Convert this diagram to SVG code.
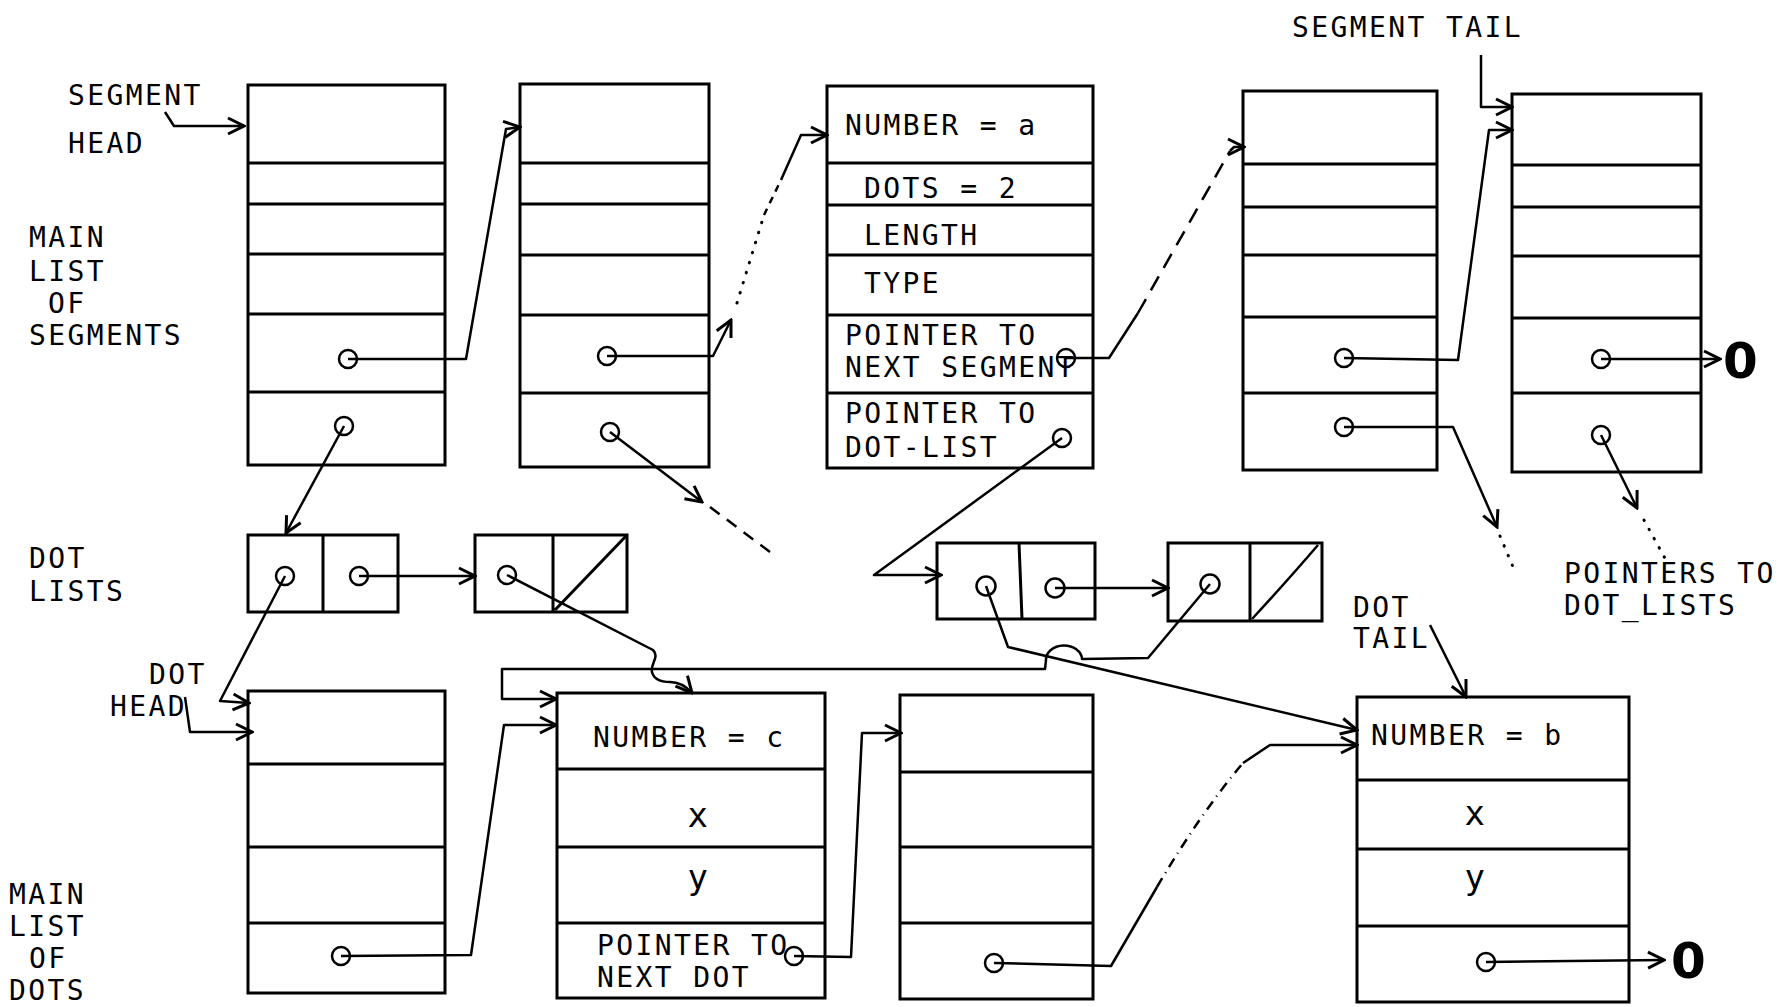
<svg xmlns="http://www.w3.org/2000/svg" width="1781" height="1007" viewBox="0 0 1781 1007">
<defs>
<style>
.box{fill:none;stroke:#000;stroke-width:3}
.dv{stroke:#000;stroke-width:3}
.c{fill:none;stroke:#000;stroke-width:2.5}
.ln{fill:none;stroke:#000;stroke-width:2.5;stroke-linejoin:round}
.dash{fill:none;stroke:#000;stroke-width:2.5;stroke-dasharray:12 9}
.dot{fill:none;stroke:#000;stroke-width:3;stroke-linecap:round;stroke-dasharray:0.5 10}
.dd{fill:none;stroke:#000;stroke-width:2.5;stroke-dasharray:10 6 1 6}
text{font-family:"DejaVu Sans Mono",monospace;font-size:28px;letter-spacing:2.4px;fill:#000}
.big{font-size:34px}
.zero{font-family:"DejaVu Sans","Liberation Sans",sans-serif;font-weight:bold;font-size:50px;letter-spacing:0}
</style>
<marker id="ah" viewBox="0 0 20 20" refX="18" refY="10" markerWidth="20" markerHeight="20" markerUnits="userSpaceOnUse" orient="auto">
<path d="M2,2 L18,10 L2,18" fill="none" stroke="#000" stroke-width="3"/>
</marker>
</defs>
<rect width="1781" height="1007" fill="#fff"/>

<g id="labels">
<text x="68" y="105">SEGMENT</text>
<text x="68" y="153">HEAD</text>
<text x="29" y="247">MAIN</text>
<text x="29" y="281">LIST</text>
<text x="48" y="313">OF</text>
<text x="29" y="345">SEGMENTS</text>
<text x="1292" y="37">SEGMENT TAIL</text>
<text x="29" y="568">DOT</text>
<text x="29" y="601">LISTS</text>
<text x="149" y="684">DOT</text>
<text x="110" y="716">HEAD</text>
<text x="9" y="904">MAIN</text>
<text x="9" y="936">LIST</text>
<text x="29" y="968">OF</text>
<text x="9" y="1000">DOTS</text>
<text x="1353" y="617">DOT</text>
<text x="1353" y="648">TAIL</text>
<text x="1564" y="583">POINTERS TO</text>
<text x="1564" y="615">DOT_LISTS</text>
<text class="zero" x="1723" y="378">0</text>
<text class="zero" x="1671" y="978">0</text>
</g>

<g id="seg1">
<rect class="box" x="248" y="85" width="197" height="380"/>
<path class="dv" d="M248,163H445M248,204H445M248,254H445M248,314H445M248,392H445"/>
<circle class="c" cx="348" cy="359" r="9"/>
<circle class="c" cx="344" cy="426" r="9"/>
</g>
<g id="seg2">
<rect class="box" x="520" y="84" width="189" height="383"/>
<path class="dv" d="M520,163H709M520,204H709M520,255H709M520,315H709M520,393H709"/>
<circle class="c" cx="607" cy="356" r="9"/>
<circle class="c" cx="610" cy="432" r="9"/>
</g>
<g id="seg3">
<rect class="box" x="827" y="86" width="266" height="382"/>
<path class="dv" d="M827,163H1093M827,205H1093M827,255H1093M827,315H1093M827,393H1093"/>
<text x="845" y="135">NUMBER = a</text>
<text x="864" y="198">DOTS = 2</text>
<text x="864" y="245">LENGTH</text>
<text x="864" y="293">TYPE</text>
<text x="845" y="345">POINTER TO</text>
<text x="845" y="377">NEXT SEGMENT</text>
<text x="845" y="423">POINTER TO</text>
<text x="845" y="457">DOT-LIST</text>
<circle class="c" cx="1066" cy="358" r="9"/>
<circle class="c" cx="1062" cy="438" r="9"/>
</g>
<g id="seg4">
<rect class="box" x="1243" y="91" width="194" height="379"/>
<path class="dv" d="M1243,164H1437M1243,207H1437M1243,255H1437M1243,317H1437M1243,393H1437"/>
<circle class="c" cx="1344" cy="358" r="9"/>
<circle class="c" cx="1344" cy="427" r="9"/>
</g>
<g id="seg5">
<rect class="box" x="1512" y="94" width="189" height="378"/>
<path class="dv" d="M1512,165H1701M1512,207H1701M1512,256H1701M1512,318H1701M1512,393H1701"/>
<circle class="c" cx="1601" cy="359" r="9"/>
<circle class="c" cx="1601" cy="435" r="9"/>
</g>

<g id="dl1">
<rect class="box" x="248" y="535" width="150" height="77"/>
<path class="dv" d="M323,535V612"/>
<circle class="c" cx="285" cy="576" r="9"/>
<circle class="c" cx="359" cy="576" r="9"/>
</g>
<g id="dl2">
<rect class="box" x="475" y="535" width="152" height="77"/>
<path class="dv" d="M553,535V612M555,610L627,535"/>
<circle class="c" cx="507" cy="575" r="9"/>
</g>
<g id="dl3">
<rect class="box" x="937" y="543" width="158" height="76"/>
<path class="dv" d="M1019,543L1022,619"/>
<circle class="c" cx="986" cy="586" r="9.5"/>
<circle class="c" cx="1055" cy="588" r="9.5"/>
</g>
<g id="dl4">
<rect class="box" x="1168" y="543" width="154" height="78"/>
<path class="dv" d="M1250,543V621"/>
<path class="ln" d="M1252,619Q1288,580 1318,545"/>
<circle class="c" cx="1210" cy="584" r="9.5"/>
</g>

<g id="dot1">
<rect class="box" x="248" y="691" width="197" height="302"/>
<path class="dv" d="M248,764H445M248,847H445M248,923H445"/>
<circle class="c" cx="341" cy="956" r="9"/>
</g>
<g id="dotc">
<rect class="box" x="557" y="693" width="268" height="305"/>
<path class="dv" d="M557,769H825M557,847H825M557,923H825"/>
<text x="593" y="747">NUMBER = c</text>
<text class="big" x="699" y="827" text-anchor="middle" letter-spacing="0">x</text>
<text class="big" x="699" y="889" text-anchor="middle" letter-spacing="0">y</text>
<text x="597" y="955">POINTER TO</text>
<text x="597" y="987">NEXT DOT</text>
<circle class="c" cx="794" cy="956" r="9"/>
</g>
<g id="dotd">
<rect class="box" x="900" y="695" width="193" height="304"/>
<path class="dv" d="M900,772H1093M900,847H1093M900,923H1093"/>
<circle class="c" cx="994" cy="963" r="9"/>
</g>
<g id="dotb">
<rect class="box" x="1357" y="697" width="272" height="305"/>
<path class="dv" d="M1357,780H1629M1357,849H1629M1357,926H1629"/>
<text x="1371" y="745">NUMBER = b</text>
<text class="big" x="1476" y="825" text-anchor="middle" letter-spacing="0">x</text>
<text class="big" x="1476" y="889" text-anchor="middle" letter-spacing="0">y</text>
<circle class="c" cx="1486" cy="962" r="9"/>
</g>

<g id="connectors">
<path class="ln" marker-end="url(#ah)" d="M165,112L174,126H244"/>
<path class="ln" marker-end="url(#ah)" d="M348,359H466L506,129L520,127"/>
<path class="ln" marker-end="url(#ah)" d="M344,426L286,533"/>
<path class="ln" marker-end="url(#ah)" d="M607,356H713L731,320"/>
<path class="dot" d="M737,303L764,215"/>
<path class="dash" style="stroke-dasharray:7 6" d="M764,215L781,180"/>
<path class="ln" marker-end="url(#ah)" d="M781,180L801,135H827"/>
<path class="ln" marker-end="url(#ah)" d="M610,432L702,502"/>
<path class="dash" d="M710,507L770,552"/>
<path class="ln" d="M1066,358H1109L1138,313"/>
<path class="dash" style="stroke-dasharray:16 10" d="M1138,313L1230,151"/>
<path class="ln" marker-end="url(#ah)" d="M1230,151L1234,147H1244"/>
<path class="ln" marker-end="url(#ah)" d="M1062,438L874,575H941"/>
<path class="ln" marker-end="url(#ah)" d="M1344,358L1458,360L1489,130H1512"/>
<path class="ln" marker-end="url(#ah)" d="M1481,55V107H1512"/>
<path class="ln" marker-end="url(#ah)" d="M1344,427H1453L1497,527"/>
<path class="dot" d="M1500,536L1516,574"/>
<path class="ln" marker-end="url(#ah)" d="M1601,359H1720"/>
<path class="ln" marker-end="url(#ah)" d="M1601,435L1637,508"/>
<path class="dot" d="M1644,520L1667,562"/>
<path class="ln" marker-end="url(#ah)" d="M285,576L220,701L249,703"/>
<path class="ln" marker-end="url(#ah)" d="M185,697L190,732H252"/>
<path class="ln" marker-end="url(#ah)" d="M359,576H475"/>
<path class="ln" marker-end="url(#ah)" d="M507,575L653,650C660,657 650,664 652,672C654,680 662,682 670,682C678,682 685,685 692,693"/>
<path class="ln" marker-end="url(#ah)" d="M1055,588H1168"/>
<path class="ln" marker-end="url(#ah)" d="M986,586L1008,647L1357,730"/>
<path class="ln" marker-end="url(#ah)" d="M1210,584L1148,658L1082,659A18,14 0 0 0 1046,660L1045,669H502V699H556"/>
<path class="ln" marker-end="url(#ah)" d="M341,956L471,955L504,725H556"/>
<path class="ln" marker-end="url(#ah)" d="M794,956L851,957L862,733H901"/>
<path class="ln" d="M994,963L1111,966L1157,887"/>
<path class="dd" d="M1157,887Q1200,814 1243,763"/>
<path class="ln" marker-end="url(#ah)" d="M1243,763L1270,745H1357"/>
<path class="ln" marker-end="url(#ah)" d="M1486,962L1664,960"/>
<path class="ln" marker-end="url(#ah)" d="M1430,625L1466,697"/>
</g>
</svg>
